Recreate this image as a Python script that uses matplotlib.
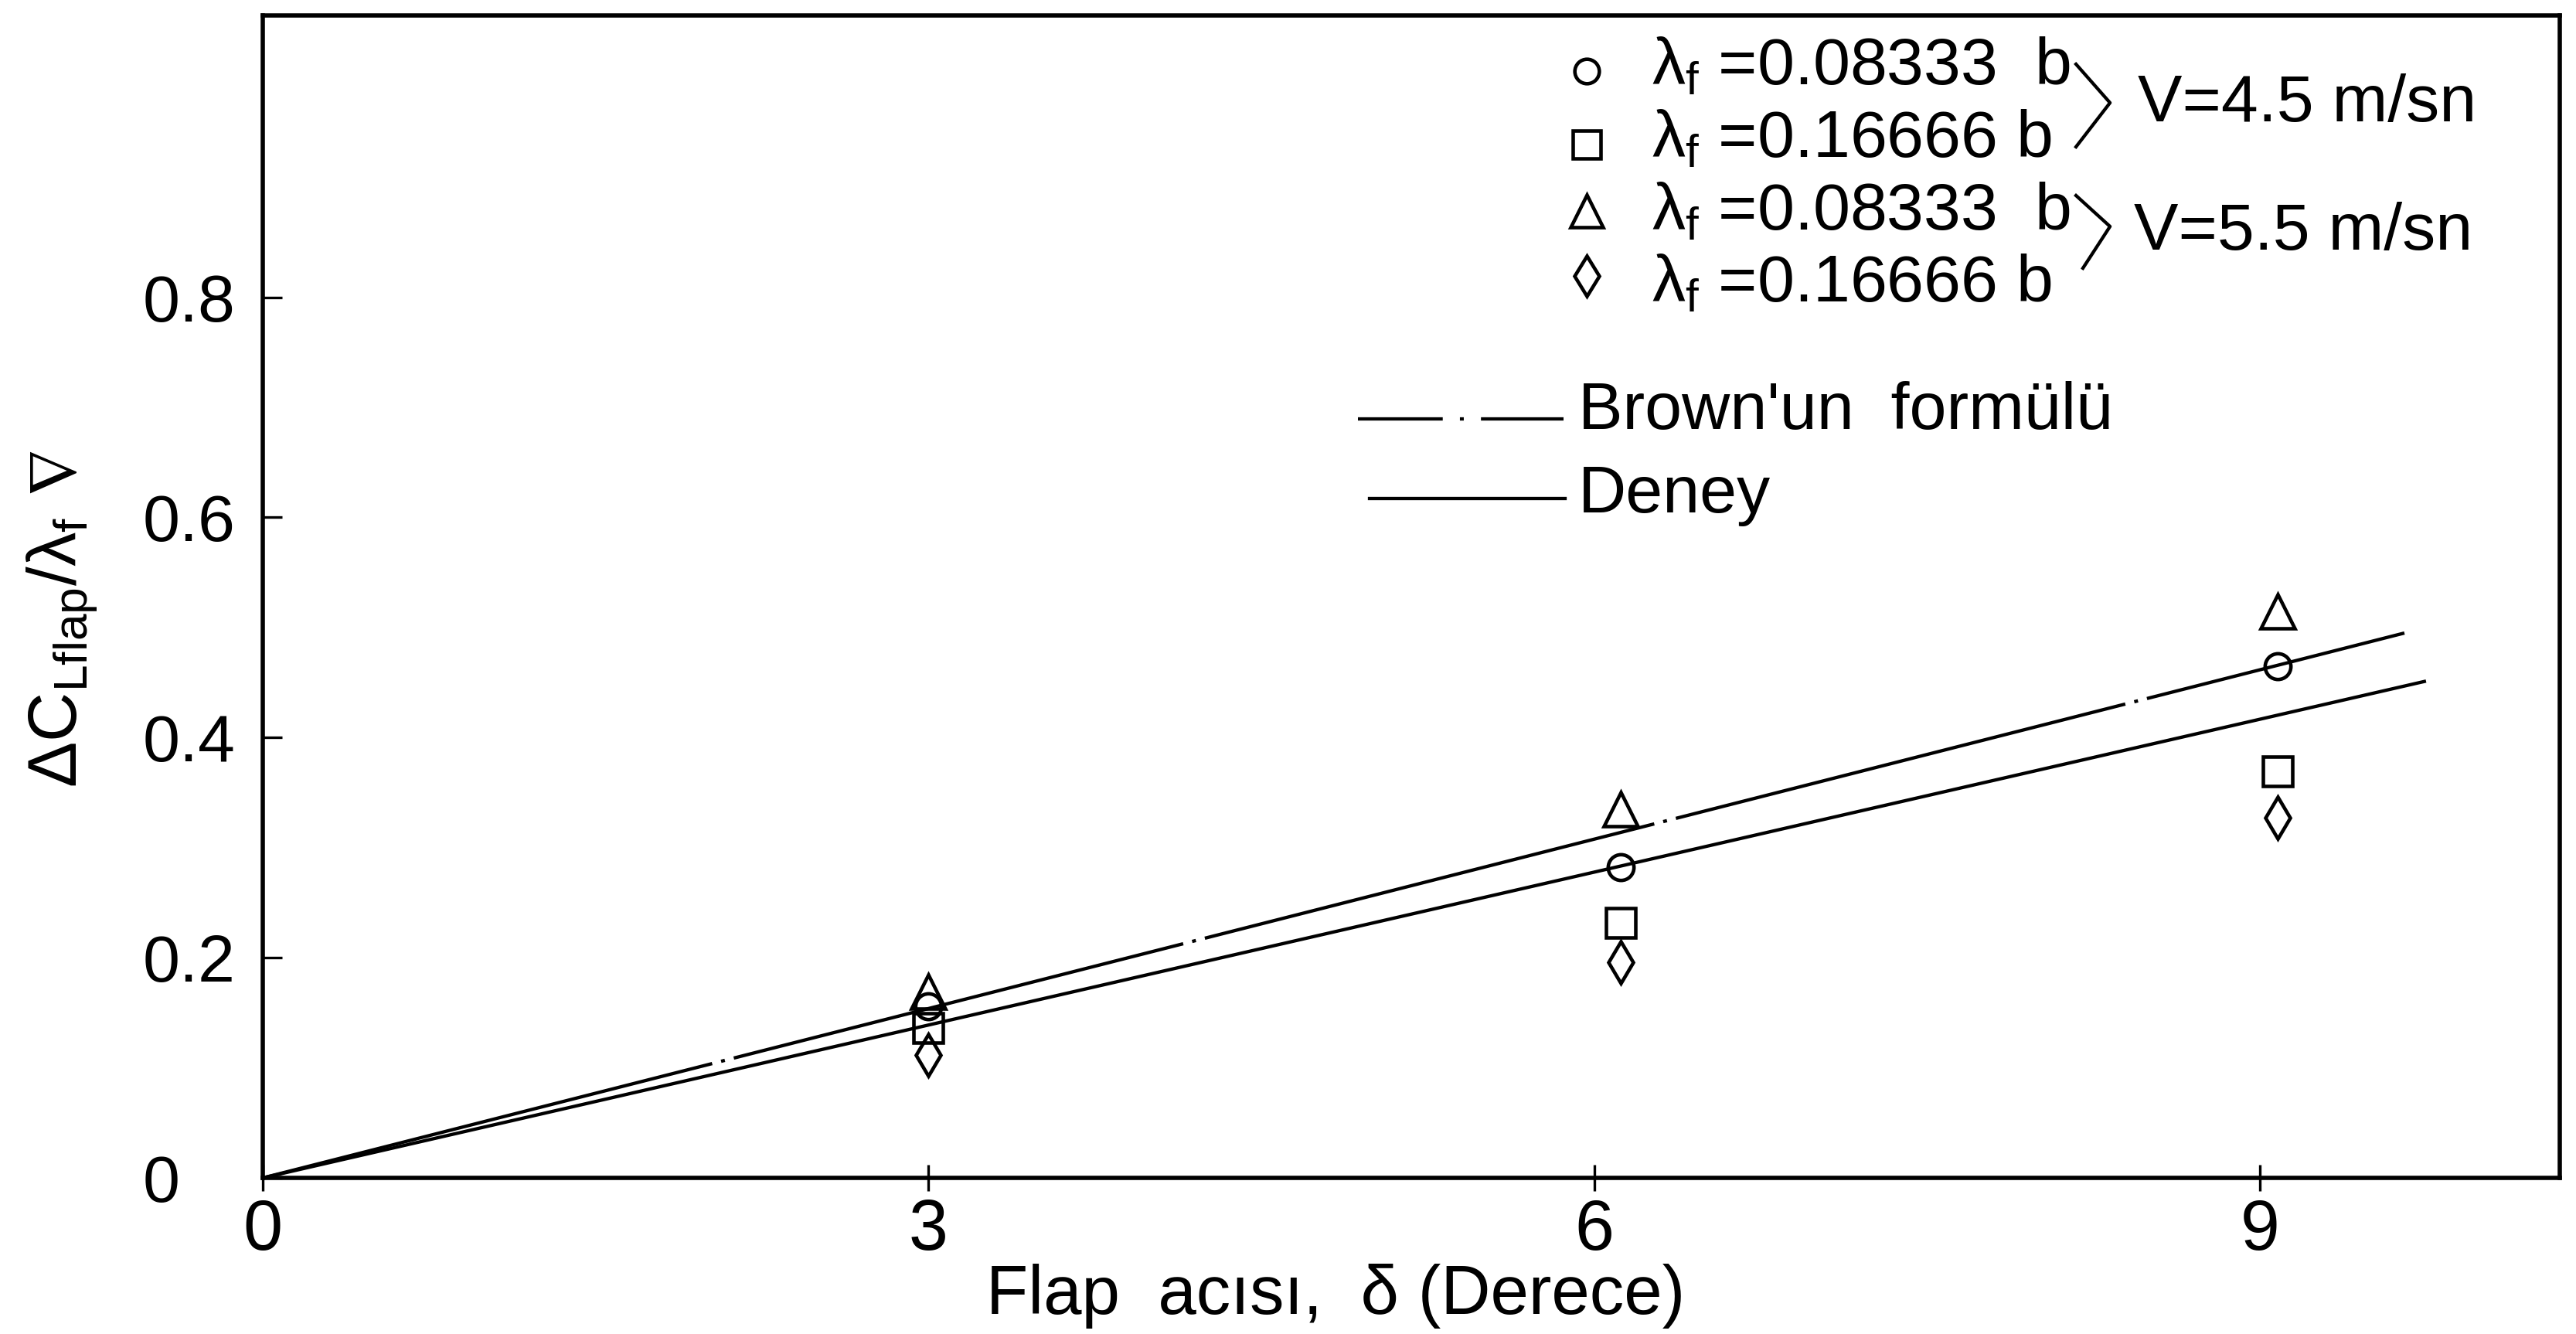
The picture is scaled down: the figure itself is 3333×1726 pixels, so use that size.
import matplotlib
matplotlib.use('Agg')
import matplotlib.pyplot as plt

plt.rcParams['font.family'] = ['Liberation Sans', 'DejaVu Sans']
plt.rcParams['mathtext.fontset'] = 'custom'
plt.rcParams['mathtext.rm'] = 'Liberation Sans'
plt.rcParams['mathtext.it'] = 'Liberation Sans'
plt.rcParams['mathtext.bf'] = 'Liberation Sans:bold'
plt.rcParams['mathtext.fallback'] = 'stixsans'
plt.rcParams['lines.scale_dashes'] = False

# Measured points (flap angle in degrees)
flap_angle = [3.0, 6.12, 9.08]
v45_lf083 = [0.156, 0.282, 0.465]
v45_lf166 = [0.136, 0.232, 0.369]
v55_lf083 = [0.169, 0.335, 0.515]
v55_lf166 = [0.112, 0.196, 0.327]

# Straight lines through the origin
brown_x = [0.0, 9.65]
brown_y = [0.0, 0.495]
deney_x = [0.0, 9.74]
deney_y = [0.0, 0.451]

x_ticks = [0, 3, 6, 9]
y_ticks = [0, 0.2, 0.4, 0.6, 0.8]
y_ticklabels = ['0', '0.2', '0.4', '0.6', '0.8']

series = [
    (v45_lf083, 'o', 24, r'$\lambda_f$ =0.08333  b'),
    (v45_lf166, 's', 27, r'$\lambda_f$ =0.16666 b'),
    (v55_lf083, '^', 32, r'$\lambda_f$ =0.08333  b'),
    (v55_lf166, 'd', 28, r'$\lambda_f$ =0.16666 b'),
]

brown_dash = (0, (432, 8.6, 3.6, 8.6))
lw = 3.1
fs = 62

fig = plt.figure(figsize=(33.33, 17.26), dpi=100)
ax = fig.add_axes([0.1020, 0.1170, 0.8917, 0.8714])

ax.plot(brown_x, brown_y, color='black', lw=lw, linestyle=brown_dash)
ax.plot(deney_x, deney_y, color='black', lw=lw)

for vals, mk, ms, _ in series:
    ax.plot(flap_angle, vals, linestyle='none', marker=mk, markersize=ms,
            markerfacecolor='none', markeredgecolor='black',
            markeredgewidth=3.3)

ax.set_xlim(0, 10.35)
ax.set_ylim(0, 1.056)
ax.set_xticks(x_ticks)
ax.set_xticklabels([str(t) for t in x_ticks])
ax.set_yticks(y_ticks)
ax.set_yticklabels(y_ticklabels)

ax.tick_params(axis='x', direction='inout', length=25, width=2.4, pad=6,
               labelsize=66)
ax.tick_params(axis='y', direction='in', length=18, width=2.4, pad=112,
               labelsize=62)
for lab in ax.get_yticklabels():
    lab.set_horizontalalignment('left')

for sp in ax.spines.values():
    sp.set_linewidth(4.0)

ax.text(0.467, -0.117, 'Flap  acısı,  δ (Derece)', transform=ax.transAxes,
        ha='center', va='baseline', fontsize=64)
ax.text(-0.0875, 0.481, r'$\Delta$C$_{\mathrm{Lflap}}$/$\lambda_f$ $\nabla$',
        transform=ax.transAxes, rotation=90, ha='center', va='center',
        fontsize=64)

# Marker key in the upper right corner
key_x = 0.5764
text_x = 0.6046
marker_y = [0.9521, 0.8890, 0.8318, 0.7759]
text_base = [0.9402, 0.8783, 0.8158, 0.7540]
for (vals, mk, ms, label), my, ty in zip(series, marker_y, text_base):
    ax.plot([key_x], [my], marker=mk, markersize=ms * 0.95, linestyle='none',
            markerfacecolor='none', markeredgecolor='black',
            markeredgewidth=3.3, transform=ax.transAxes, clip_on=False)
    ax.text(text_x, ty, label, transform=ax.transAxes, ha='left',
            va='baseline', fontsize=fs)

# Brackets grouping the key rows by flow speed
ax.plot([0.7894, 0.8042, 0.7894], [0.9581, 0.9249, 0.8870], color='black',
        lw=lw, transform=ax.transAxes, clip_on=False)
ax.plot([0.7894, 0.8042, 0.7924], [0.8451, 0.8185, 0.7826], color='black',
        lw=lw, transform=ax.transAxes, clip_on=False)
ax.text(0.8163, 0.9089, 'V=4.5 m/sn', transform=ax.transAxes, ha='left',
        va='baseline', fontsize=fs)
ax.text(0.8146, 0.7985, 'V=5.5 m/sn', transform=ax.transAxes, ha='left',
        va='baseline', fontsize=fs)

# Line key
ax.plot([0.4768, 0.5663], [0.6529, 0.6529], color='black', lw=lw,
        linestyle=(0, (79, 16, 3.6, 16)), transform=ax.transAxes)
ax.text(0.5727, 0.6443, "Brown'un  formülü", transform=ax.transAxes,
        ha='left', va='baseline', fontsize=fs)
ax.plot([0.4818, 0.5670], [0.5844, 0.5844], color='black', lw=lw,
        transform=ax.transAxes)
ax.text(0.5727, 0.5725, 'Deney', transform=ax.transAxes, ha='left',
        va='baseline', fontsize=fs)

fig.savefig('out.png', dpi=100, facecolor='white')
